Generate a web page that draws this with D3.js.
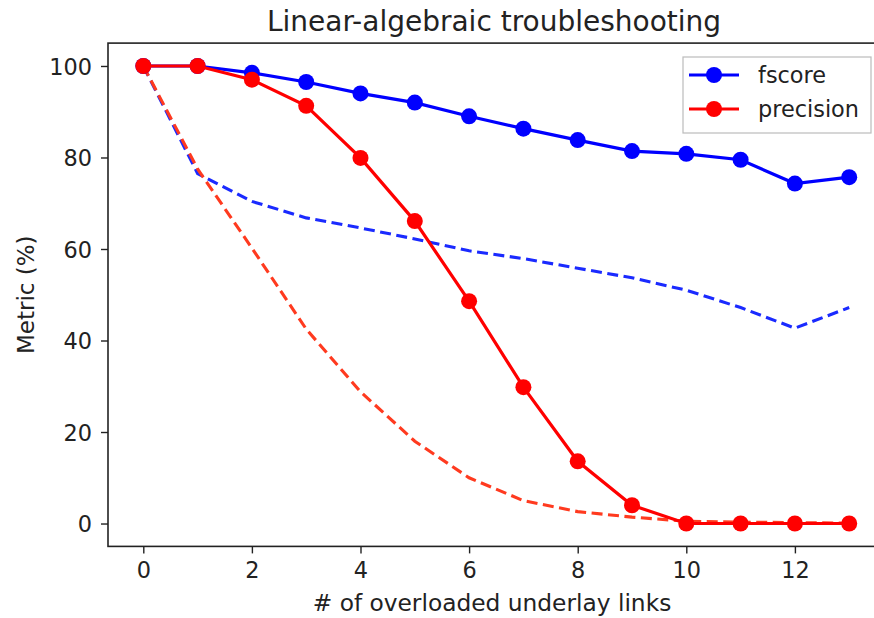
<!DOCTYPE html>
<html><head><meta charset="utf-8">
<script src="https://cdn.jsdelivr.net/npm/d3@7/dist/d3.min.js"></script>
<style>body{margin:0;background:#fff}svg{display:block}text{font-family:"DejaVu Sans",sans-serif;fill:#222}</style>
</head><body><svg id="c" width="874" height="618"></svg>
<script>
const xs = [0,1,2,3,4,5,6,7,8,9,10,11,12,13];
const fscore = [100,100,98.5,96.5,94,92,89,86.3,83.8,81.4,80.8,79.5,74.3,75.7];
const precision = [100,100,97,91.3,79.9,66.1,48.6,29.8,13.6,4.0,0,0,0,0];
const fscoreBase = [100,76.5,70.4,66.8,64.6,62.2,59.6,57.9,55.8,53.7,51.0,47.2,42.7,47.2];
const precisionBase = [100,77.5,60.2,42.5,28.8,18,10,5,2.6,1.4,0.5,0.3,0.2,0.1];
const xTicks = [0,2,4,6,8,10,12];
const yTicks = [0,20,40,60,80,100];
const title = "Linear-algebraic troubleshooting";
const xLabel = "# of overloaded underlay links";
const yLabel = "Metric (%)";
const legendNames = ["fscore","precision"];

const svg = d3.select("#c");
const L=108, R=884.5, T=43.1, B=546.4;
const x = d3.scaleLinear().domain([-0.65,13.65]).range([L,R]);
const y = d3.scaleLinear().domain([-5,105]).range([B,T]);
const FS = 22.4;

// axes
const xAxis = d3.axisBottom(x).tickValues(xTicks).tickSize(7).tickPadding(9).tickFormat(d3.format("d"));
const yAxis = d3.axisLeft(y).tickValues(yTicks).tickSize(7).tickPadding(9).tickFormat(d3.format("d"));
const gx = svg.append("g").attr("transform",`translate(0,${B})`).call(xAxis);
const gy = svg.append("g").attr("transform",`translate(${L},0)`).call(yAxis);
[gx,gy].forEach(g=>{
  g.select(".domain").remove();
  g.selectAll(".tick line").attr("stroke","#222").attr("stroke-width",1.4);
  g.selectAll(".tick text").attr("font-size",FS).attr("fill","#222").attr("font-family","DejaVu Sans");
});
gy.selectAll(".tick text").attr("dy","0.36em");
// spines
svg.append("rect").attr("x",L).attr("y",T).attr("width",R-L).attr("height",B-T)
  .attr("fill","none").attr("stroke","#222").attr("stroke-width",1.6);

const line = d => d3.line().x((v,i)=>x(xs[i])).y(v=>y(v))(d);
// dashed baselines
svg.append("path").attr("d",line(fscoreBase)).attr("fill","none").attr("stroke","#1a2aff")
  .attr("stroke-width",3.1).attr("stroke-dasharray","11,5.5");
svg.append("path").attr("d",line(precisionBase)).attr("fill","none").attr("stroke","#ff3a1f")
  .attr("stroke-width",3.1).attr("stroke-dasharray","11,5.5");

const series = [{v:fscore,c:"#0000ff"},{v:precision,c:"#ff0000"}];
series.forEach(s=>{
  svg.append("path").attr("d",line(s.v)).attr("fill","none").attr("stroke",s.c).attr("stroke-width",3.2);
  svg.append("g").selectAll("circle").data(s.v).join("circle")
    .attr("cx",(v,i)=>x(xs[i])).attr("cy",v=>y(v)).attr("r",8).attr("fill",s.c);
});

// title & labels
svg.append("text").attr("x",494).attr("y",31).attr("text-anchor","middle").attr("font-size",28).text(title);
svg.append("text").attr("x",492).attr("y",611).attr("text-anchor","middle").attr("font-size",23.3).text(xLabel);
svg.append("text").attr("transform",`translate(34,${(T+B)/2}) rotate(-90)`).attr("text-anchor","middle").attr("font-size",23).text(yLabel);

// legend
const lg = svg.append("g");
lg.append("rect").attr("x",683).attr("y",57).attr("width",188).attr("height",76)
  .attr("fill","#fff").attr("stroke","#bbb").attr("stroke-width",1.2);
legendNames.forEach((n,i)=>{
  const yy = 75 + i*34;
  lg.append("line").attr("x1",689).attr("x2",739).attr("y1",yy).attr("y2",yy).attr("stroke",series[i].c).attr("stroke-width",3.2);
  lg.append("circle").attr("cx",714).attr("cy",yy).attr("r",8).attr("fill",series[i].c);
  lg.append("text").attr("x",758).attr("y",yy).attr("dy","0.36em").attr("font-size",FS).text(n);
});
</script></body></html>
